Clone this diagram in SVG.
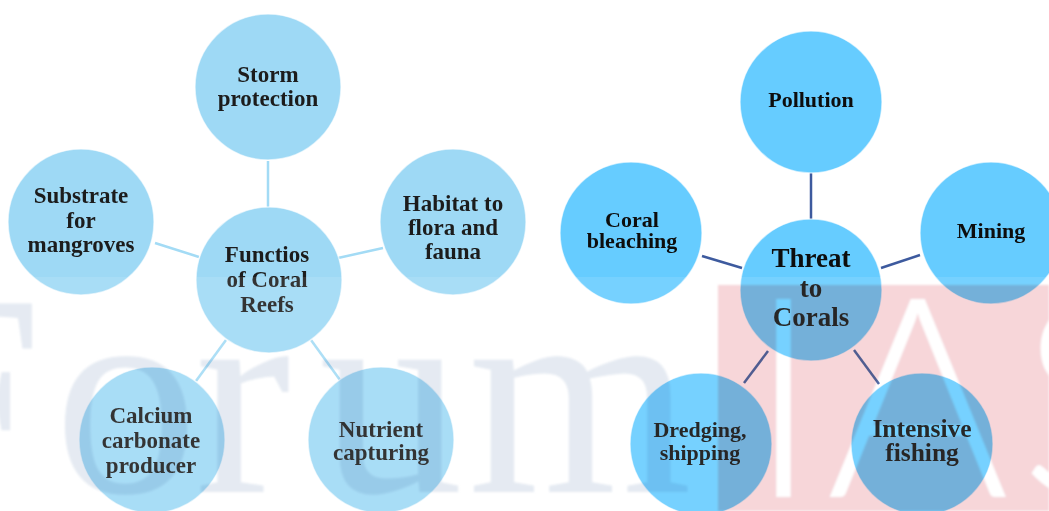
<svg xmlns="http://www.w3.org/2000/svg" width="1049" height="511" viewBox="0 0 1049 511">
  <defs>
    <style>
      .fn circle { fill: #9ed9f5; stroke: #ffffff; stroke-opacity: 0.6; stroke-width: 1.5; }
      .th circle { fill: #66ccff; stroke: #ffffff; stroke-opacity: 0.6; stroke-width: 1.5; }
      text { font-family: "Liberation Serif", "Times New Roman", serif; font-weight: bold; text-anchor: middle; }
      .fn text { font-size: 23px; fill: #1c1c1c; }
      .th text { font-size: 22px; fill: #0d0d0d; }
      .th text.big { font-size: 27px; }
      .th text.mid { font-size: 25.5px; }
      .links-fn line { stroke: #a3dbf5; stroke-width: 2.5; }
      .links-th line { stroke: #3d5a9e; stroke-width: 2.5; }
      .wm-serif { font-family: "Liberation Serif", "Times New Roman", serif; font-weight: normal; font-size: 288px; fill: #e2e8f1; text-anchor: start; }
      .wm-sans { font-family: Lato, "Liberation Sans", sans-serif; font-weight: 300; font-size: 280px; fill: #ffffff; text-anchor: start; }
    </style>
    <filter id="soft" x="-5%" y="-5%" width="110%" height="110%">
      <feGaussianBlur stdDeviation="1.2"/>
    </filter>
  </defs>

  <rect width="1049" height="511" fill="#ffffff"/>

  <!-- connectors -->
  <g id="connectors">
    <g class="links-fn">
      <line x1="268" y1="161" x2="268" y2="207"/>
      <line x1="155" y1="243" x2="199" y2="257"/>
      <line x1="338" y1="258" x2="383" y2="248"/>
      <line x1="226" y1="340" x2="196" y2="381"/>
      <line x1="311" y1="340" x2="340" y2="380"/>
    </g>
    <g class="links-th">
      <line x1="811" y1="173" x2="811" y2="219"/>
      <line x1="702" y1="256" x2="742" y2="268"/>
      <line x1="881" y1="268" x2="920" y2="255"/>
      <line x1="768" y1="351" x2="744" y2="383"/>
      <line x1="854" y1="350" x2="879" y2="384"/>
    </g>
  </g>

  <!-- functions of coral reefs -->
  <g class="fn">
    <g id="storm">
      <circle cx="268" cy="87" r="73"/>
      <text x="268" y="82">Storm</text>
      <text x="268" y="106">protection</text>
    </g>
    <g id="substrate">
      <circle cx="81" cy="222" r="73"/>
      <text x="81" y="203">Substrate</text>
      <text x="81" y="228">for</text>
      <text x="81" y="252">mangroves</text>
    </g>
    <g id="habitat">
      <circle cx="453" cy="222" r="73"/>
      <text x="453" y="211">Habitat to</text>
      <text x="453" y="235">flora and</text>
      <text x="453" y="259">fauna</text>
    </g>
    <g id="functions">
      <circle cx="269" cy="280" r="73"/>
      <text x="267" y="262">Functios</text>
      <text x="267" y="287">of Coral</text>
      <text x="267" y="312">Reefs</text>
    </g>
    <g id="calcium">
      <circle cx="152" cy="440" r="73"/>
      <text x="151" y="423">Calcium</text>
      <text x="151" y="448">carbonate</text>
      <text x="151" y="473">producer</text>
    </g>
    <g id="nutrient">
      <circle cx="381" cy="440" r="73"/>
      <text x="381" y="437">Nutrient</text>
      <text x="381" y="460">capturing</text>
    </g>
  </g>

  <!-- threats to corals -->
  <g class="th">
    <g id="pollution">
      <circle cx="811" cy="102" r="71"/>
      <text x="811" y="107">Pollution</text>
    </g>
    <g id="bleaching">
      <circle cx="631" cy="233" r="71"/>
      <text x="632" y="227">Coral</text>
      <text x="632" y="248">bleaching</text>
    </g>
    <g id="mining">
      <circle cx="991" cy="233" r="71"/>
      <text x="991" y="238">Mining</text>
    </g>
    <g id="threat">
      <circle cx="811" cy="290" r="71"/>
      <text class="big" x="811" y="267">Threat</text>
      <text class="big" x="811" y="297">to</text>
      <text class="big" x="811" y="326">Corals</text>
    </g>
    <g id="dredging">
      <circle cx="701" cy="444" r="71"/>
      <text x="700" y="437">Dredging,</text>
      <text x="700" y="460">shipping</text>
    </g>
    <g id="fishing">
      <circle cx="922" cy="444" r="71"/>
      <text class="mid" x="922" y="437">Intensive</text>
      <text class="mid" x="922" y="461">fishing</text>
    </g>
  </g>

  <!-- background brand mark, multiplied over the lower half -->
  <g id="watermark" style="mix-blend-mode: multiply" filter="url(#soft)">
    <text class="wm-serif" x="-118 54 195 319 468" y="492">Forum</text>
    <rect x="718" y="285" width="331" height="226" fill="#f6d1d5"/>
    <text class="wm-sans" x="747 826 1019" y="497">IAS</text>
  </g>
  <rect x="0" y="277" width="1049" height="234" fill="#ffffff" fill-opacity="0.11"/>
</svg>
